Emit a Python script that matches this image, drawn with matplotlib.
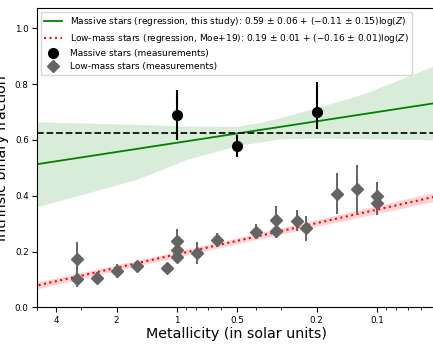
"""
Intrinsic binary fraction versus metallicity: massive stars vs low-mass stars.
"""

import numpy as np
import matplotlib
matplotlib.use("Agg")
import matplotlib.pyplot as plt

low_Z = [3.16, 3.16, 2.51, 2.0, 1.59, 1.12, 1.0, 1.0, 1.0, 0.79, 0.63, 0.40,
         0.32, 0.32, 0.25, 0.225, 0.159, 0.126, 0.1, 0.1]
low_f = [0.172, 0.100, 0.106, 0.131, 0.148, 0.140, 0.239, 0.205, 0.181, 0.195,
         0.242, 0.269, 0.313, 0.273, 0.308, 0.283, 0.407, 0.423, 0.400, 0.375]
low_err_lo = [0.062, 0.028, 0.02, 0.025, 0.015, 0.012, 0.04, 0.03, 0.02, 0.04,
              0.025, 0.025, 0.05, 0.025, 0.035, 0.045, 0.074, 0.09, 0.048, 0.045]
low_err_hi = [0.062, 0.028, 0.02, 0.025, 0.015, 0.012, 0.04, 0.03, 0.02, 0.04,
              0.025, 0.03, 0.05, 0.025, 0.04, 0.045, 0.073, 0.087, 0.048, 0.045]

# Massive stars (measurements)
mas_Z = [1.0, 0.5, 0.2]
mas_f = [0.689, 0.579, 0.699]
mas_err_lo = [0.089, 0.039, 0.059]
mas_err_hi = [0.089, 0.039, 0.11]

# mean massive binary fraction (dashed line)
mas_mean = 0.626

# regressions: a + b*log10(Z)
mas_a, mas_b = 0.59, -0.11
low_a, low_b = 0.19, -0.16
low_sa, low_sb = 0.01, 0.01

# confidence band of massive-star regression
band_Z = [5.0, 1.585, 0.89, 0.5, 0.372, 0.305, 0.209, 0.117, 0.05]
band_lo = [0.36, 0.459, 0.53, 0.58, 0.594, 0.604, 0.607, 0.605, 0.60]
band_hi = [0.665, 0.656, 0.650, 0.649, 0.665, 0.68, 0.712, 0.765, 0.87]

legend_labels = [
    "Massive stars (regression, this study): 0.59 \u00b1 0.06 + (\u22120.11 \u00b1 0.15)log($Z$)",
    "Low-mass stars (regression, Moe+19): 0.19 \u00b1 0.01 + (\u22120.16 \u00b1 0.01)log($Z$)",
    "Massive stars (measurements)",
    "Low-mass stars (measurements)",
]

xticks = [4, 2, 1, 0.5, 0.2, 0.1]
xtick_labels = ["4", "2", "1", "0.5", "0.2", "0.1"]
xminor = [5, 3, 0.9, 0.8, 0.7, 0.6, 0.4, 0.3, 0.09, 0.08, 0.07, 0.06, 0.05]

fig = plt.figure(figsize=(4.33, 3.5), dpi=100)
ax = fig.add_axes([37 / 433, 0.122, 400 / 433, 0.855])
ax.set_xscale("log")

zz = np.logspace(np.log10(0.05), np.log10(5.0), 200)
lz = np.log10(zz)

# massive regression with band
ax.fill_between(band_Z, band_lo, band_hi, color="green", alpha=0.15, lw=0)
h1, = ax.plot(zz, mas_a + mas_b * lz, color="green", lw=1.3)

# low-mass regression with band
low_line = low_a + low_b * lz
low_sig = np.sqrt(low_sa ** 2 + (low_sb * lz) ** 2)
ax.fill_between(zz, low_line - low_sig, low_line + low_sig, color="red", alpha=0.17, lw=0)
h2, = ax.plot(zz, low_line, color="red", ls=":", lw=1.5)

ax.axhline(mas_mean, color="#111111", ls="--", lw=1.3)

# measurements
ax.errorbar(low_Z, low_f, yerr=[low_err_lo, low_err_hi], fmt="none",
            ecolor="#646464", elinewidth=1.4)
h4, = ax.plot(low_Z, low_f, "D", color="#646464", ms=6, ls="none")
ax.errorbar(mas_Z, mas_f, yerr=[mas_err_lo, mas_err_hi], fmt="none",
            ecolor="black", elinewidth=1.5)
h3, = ax.plot(mas_Z, mas_f, "o", color="black", ms=7, ls="none")

ax.set_xlim(5.0, 0.05)
ax.set_ylim(0, 1.073)
ax.set_xticks(xticks)
ax.set_xticklabels(xtick_labels)
ax.set_xticks(xminor, minor=True)
ax.set_xticklabels([], minor=True)
ax.set_yticks([0.0, 0.2, 0.4, 0.6, 0.8, 1.0])
ax.tick_params(axis="both", which="major", labelsize=6.3, length=3.5, width=0.8, pad=2.5)
ax.tick_params(axis="x", which="minor", length=2, width=0.6)

ax.set_xlabel("Metallicity (in solar units)", fontsize=10.3, labelpad=2)
ax.set_ylabel("Intrinsic binary fraction", fontsize=10.3)

ax.legend([h1, h2, h3, h4], legend_labels, loc="upper left", fontsize=6.5,
          framealpha=0.8, borderaxespad=0.4, labelspacing=0.45)

fig.savefig("out.png", dpi=100)
